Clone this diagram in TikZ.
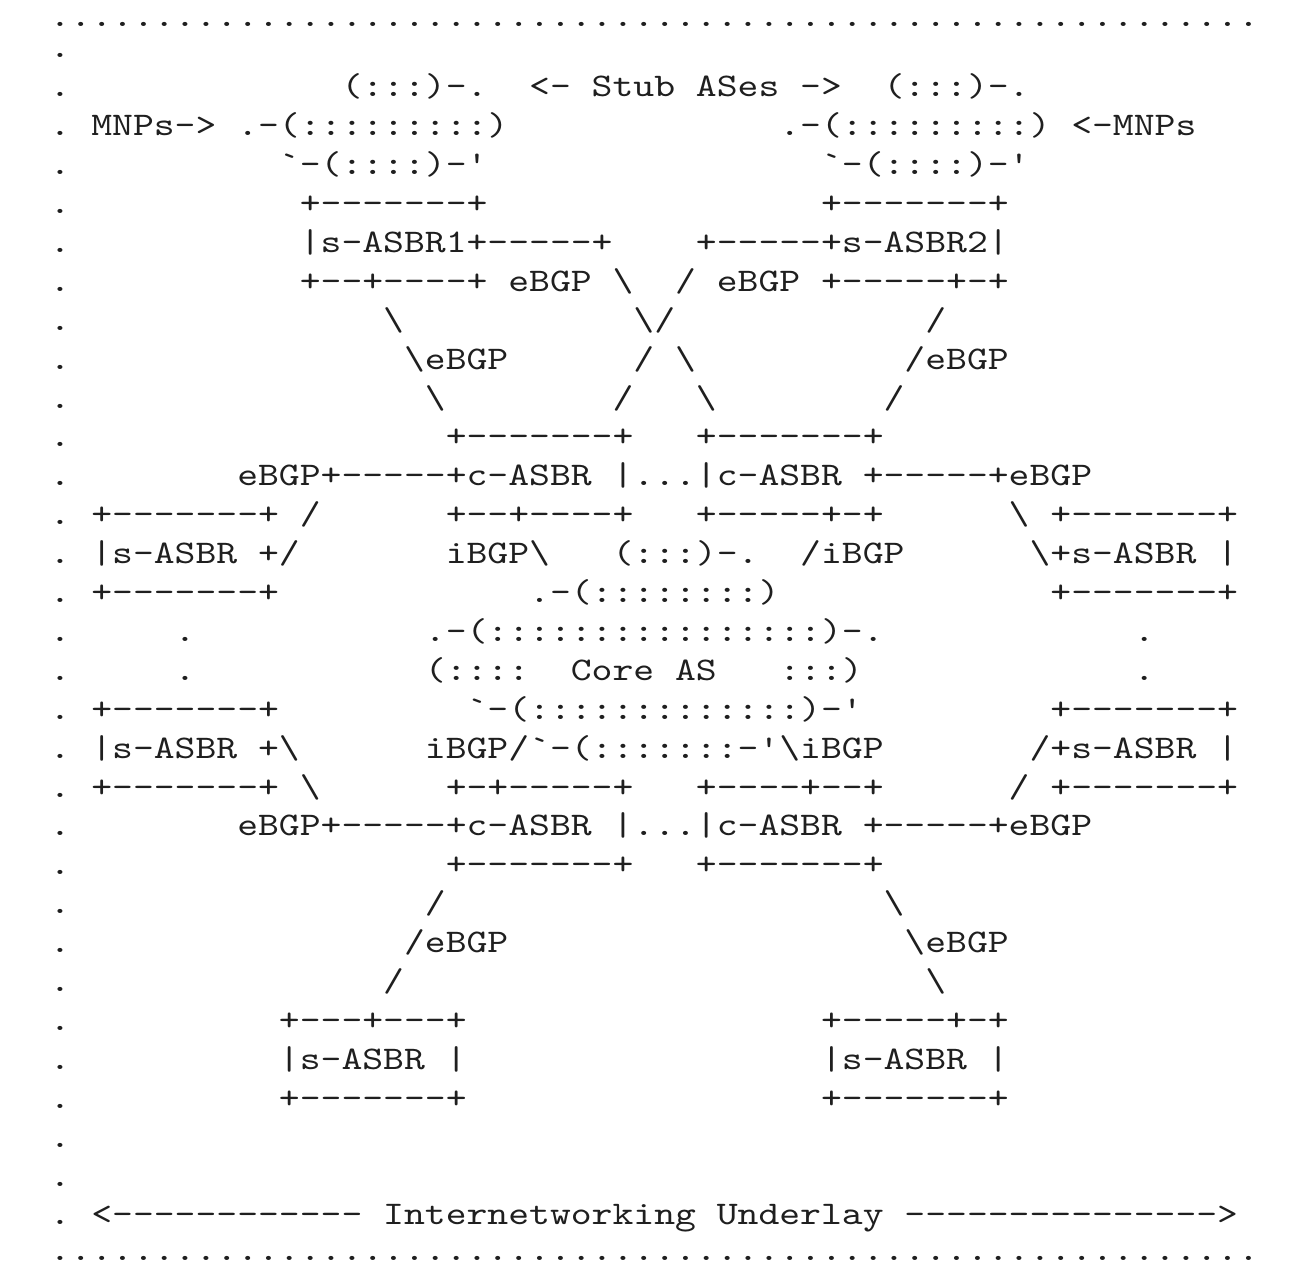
\documentclass[tikz,border=0pt]{standalone}
\usepackage{fontspec}
\newfontfamily\af{lmmono10-regular.otf}[FakeStretch=1.2035,Ligatures=TeXOff]
\newcommand\bkslash{\textbackslash}
\tikzset{
  asc/.style={anchor=base west, inner sep=0pt, outer sep=0pt, text=black!88,
    font=\af\fontsize{16.5}{16.5}\selectfont},
  dotrow/.style={asc, text height=2pt, text depth=0pt}
}
\newcommand\seg[3]{\node[asc] (r#1c#2) at ({49.6+20.85*#2},{19+38.9*#1}) {#3};}
\begin{document}
\begin{tikzpicture}[x=0.5pt,y=-0.5pt]
\fill[white] (0,0) rectangle (1291,1268);
\useasboundingbox (0,0) rectangle (1291,1268);
% dotted frame rows
\node[dotrow] (top) at (49.6,27) {..........................................................};
\node[dotrow] (bottom) at (49.6,1260) {..........................................................};
% left dot column
\foreach \r in {1,...,31} {\node[asc] (d\r) at (49.6,{19+38.9*\r}) {.};}
% row 2
\seg{2}{14}{(:::)-.}
\seg{2}{23}{<-}
\seg{2}{26}{Stub}
\seg{2}{31}{ASes}
\seg{2}{36}{->}
\seg{2}{40}{(:::)-.}
% row 3
\seg{3}{2}{MNPs->}
\seg{3}{9}{.-(:::::::::)}
\seg{3}{35}{.-(:::::::::)}
\seg{3}{49}{<-MNPs}
% row 4
\seg{4}{11}{`-(::::)-'}
\seg{4}{37}{`-(::::)-'}
% row 5
\seg{5}{12}{+-------+}
\seg{5}{37}{+-------+}
% row 6
\seg{6}{12}{|s-ASBR1+-----+}
\seg{6}{31}{+-----+s-ASBR2|}
% row 7
\seg{7}{12}{+--+----+}
\seg{7}{22}{eBGP}
\seg{7}{27}{\bkslash}
\seg{7}{30}{/}
\seg{7}{32}{eBGP}
\seg{7}{37}{+-----+-+}
% row 8
\seg{8}{16}{\bkslash}
\seg{8}{28}{\bkslash/}
\seg{8}{42}{/}
% row 9
\seg{9}{17}{\bkslash eBGP}
\seg{9}{28}{/}
\seg{9}{30}{\bkslash}
\seg{9}{41}{/eBGP}
% row 10
\seg{10}{18}{\bkslash}
\seg{10}{27}{/}
\seg{10}{31}{\bkslash}
\seg{10}{40}{/}
% row 11
\seg{11}{19}{+-------+}
\seg{11}{31}{+-------+}
% row 12
\seg{12}{9}{eBGP+-----+c-ASBR}
\seg{12}{27}{|...|c-ASBR}
\seg{12}{39}{+-----+eBGP}
% row 13
\seg{13}{2}{+-------+}
\seg{13}{12}{/}
\seg{13}{19}{+--+----+}
\seg{13}{31}{+-----+-+}
\seg{13}{46}{\bkslash}
\seg{13}{48}{+-------+}
% row 14
\seg{14}{2}{|s-ASBR}
\seg{14}{10}{+/}
\seg{14}{19}{iBGP\bkslash}
\seg{14}{27}{(:::)-.}
\seg{14}{36}{/iBGP}
\seg{14}{47}{\bkslash+s-ASBR}
\seg{14}{56}{|}
% row 15
\seg{15}{2}{+-------+}
\seg{15}{23}{.-(::::::::)}
\seg{15}{48}{+-------+}
% row 16
\seg{16}{6}{.}
\seg{16}{18}{.-(::::::::::::::::)-.}
\seg{16}{52}{.}
% row 17
\seg{17}{6}{.}
\seg{17}{18}{(::::}
\seg{17}{25}{Core}
\seg{17}{30}{AS}
\seg{17}{35}{:::)}
\seg{17}{52}{.}
% row 18
\seg{18}{2}{+-------+}
\seg{18}{20}{`-(:::::::::::::)-'}
\seg{18}{48}{+-------+}
% row 19
\seg{19}{2}{|s-ASBR}
\seg{19}{10}{+\bkslash}
\seg{19}{18}{iBGP/`-(:::::::-'\bkslash iBGP}
\seg{19}{47}{/+s-ASBR}
\seg{19}{56}{|}
% row 20
\seg{20}{2}{+-------+}
\seg{20}{12}{\bkslash}
\seg{20}{19}{+-+-----+}
\seg{20}{31}{+----+--+}
\seg{20}{46}{/}
\seg{20}{48}{+-------+}
% row 21
\seg{21}{9}{eBGP+-----+c-ASBR}
\seg{21}{27}{|...|c-ASBR}
\seg{21}{39}{+-----+eBGP}
% row 22
\seg{22}{19}{+-------+}
\seg{22}{31}{+-------+}
% row 23
\seg{23}{18}{/}
\seg{23}{40}{\bkslash}
% row 24
\seg{24}{17}{/eBGP}
\seg{24}{41}{\bkslash eBGP}
% row 25
\seg{25}{16}{/}
\seg{25}{42}{\bkslash}
% row 26
\seg{26}{11}{+---+---+}
\seg{26}{37}{+-----+-+}
% row 27
\seg{27}{11}{|s-ASBR}
\seg{27}{19}{|}
\seg{27}{37}{|s-ASBR}
\seg{27}{45}{|}
% row 28
\seg{28}{11}{+-------+}
\seg{28}{37}{+-------+}
% row 31
\seg{31}{2}{<------------}
\seg{31}{16}{Internetworking}
\seg{31}{32}{Underlay}
\seg{31}{41}{--------------->}
\end{tikzpicture}
\end{document}
